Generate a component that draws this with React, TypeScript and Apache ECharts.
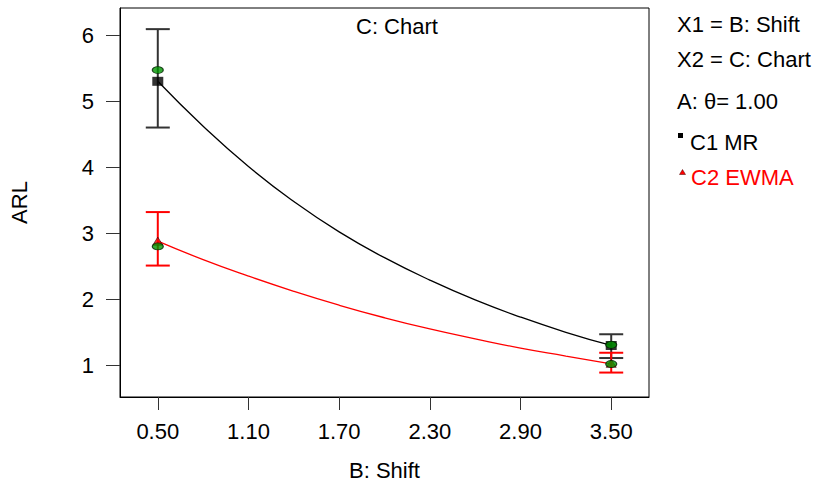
import React, { useEffect, useRef } from "react";
import * as echarts from "echarts";

// Shift values (x) where the fitted curves were read
const curveX = [0.5, 0.8, 1.1, 1.4, 1.7, 2.0, 2.3, 2.6, 2.9, 3.2, 3.5];
// Fitted ARL curve, C1 MR (black)
const c1Curve = [5.3, 4.62, 4.01, 3.48, 3.02, 2.63, 2.29, 1.99, 1.73, 1.5, 1.3];
// Fitted ARL curve, C2 EWMA (red)
const c2Curve = [2.88, 2.6, 2.35, 2.12, 1.91, 1.72, 1.55, 1.4, 1.26, 1.14, 1.02];

// Design points
const designX = [0.5, 3.5];
const c1Pred = [5.3, 1.3];
const c1Low = [4.6, 1.11];
const c1High = [6.09, 1.47];
const c2Pred = [2.88, 1.03];
const c2Low = [2.51, 0.89];
const c2High = [3.32, 1.19];
// Actual (green) observations
const actualC1 = [5.47, 1.31];
const actualC2 = [2.8, 1.02];

const xTicks = [0.5, 1.1, 1.7, 2.3, 2.9, 3.5];
const yTicks = [1, 2, 3, 4, 5, 6];

const FONT = "Liberation Sans, Arial, sans-serif";
const ELLIPSE = "path://M0 1 A1 1 0 1 1 2 1 A1 1 0 1 1 0 1 Z";

function errorBars(color: string, lo: number[], hi: number[]) {
  return {
    type: "custom",
    z: 3,
    data: designX.map((x, i) => [x, lo[i], hi[i]]),
    encode: { x: 0, y: [1, 2] },
    renderItem: (_p: any, api: any) => {
      const x = api.value(0);
      const a = api.coord([x, api.value(1)]);
      const b = api.coord([x, api.value(2)]);
      const hw = 12;
      const st = { stroke: color, lineWidth: 2 };
      return {
        type: "group",
        children: [
          { type: "line", shape: { x1: a[0], y1: a[1], x2: b[0], y2: b[1] }, style: st },
          { type: "line", shape: { x1: a[0] - hw, y1: a[1], x2: a[0] + hw, y2: a[1] }, style: st },
          { type: "line", shape: { x1: b[0] - hw, y1: b[1], x2: b[0] + hw, y2: b[1] }, style: st },
        ],
      };
    },
  };
}

export default function App() {
  const ref = useRef<HTMLDivElement>(null);
  useEffect(() => {
    const chart = echarts.init(ref.current!, null, { renderer: "svg" });
    const legendText = { fontFamily: FONT, fontSize: 22, fill: "#000" };
    chart.setOption({
      animation: false,
      backgroundColor: "#fff",
      textStyle: { fontFamily: FONT },
      grid: {
        left: 120,
        right: 175,
        top: 8,
        bottom: 88,
        show: true,
        borderColor: "#000",
        borderWidth: 1,
      },
      xAxis: {
        type: "value",
        min: 0.25,
        max: 3.75,
        name: "B: Shift",
        nameLocation: "middle",
        nameGap: 62,
        nameTextStyle: { fontSize: 22, color: "#000", fontFamily: FONT },
        axisLine: { lineStyle: { color: "#000" } },
        axisTick: { show: true, length: 13, customValues: xTicks, lineStyle: { color: "#333" } },
        axisLabel: {
          customValues: xTicks,
          formatter: (v: number) => v.toFixed(2),
          fontSize: 22,
          color: "#000",
          margin: 23,
          fontFamily: FONT,
        },
        splitLine: { show: false },
      },
      yAxis: {
        type: "value",
        min: 0.52,
        max: 6.41,
        name: "ARL",
        nameLocation: "middle",
        nameRotate: 90,
        nameGap: 90,
        nameTextStyle: { fontSize: 22, color: "#000", fontFamily: FONT },
        axisLine: { show: true, lineStyle: { color: "#000" } },
        axisTick: { show: true, length: 14, customValues: yTicks, lineStyle: { color: "#333" } },
        axisLabel: {
          customValues: yTicks,
          fontSize: 22,
          color: "#000",
          margin: 26,
          fontFamily: FONT,
        },
        splitLine: { show: false },
      },
      graphic: [
        { type: "text", left: 356, top: 15, style: { text: "C: Chart", fontFamily: FONT, fontSize: 22, fill: "#000" } },
        { type: "text", left: 677, top: 13, style: { text: "X1 = B: Shift", ...legendText } },
        { type: "text", left: 677, top: 48, style: { text: "X2 = C: Chart", ...legendText } },
        { type: "text", left: 677, top: 90, style: { text: "A: \u03b8= 1.00", ...legendText } },
        { type: "rect", shape: { x: 678, y: 133, width: 5, height: 5 }, style: { fill: "#000" } },
        { type: "text", left: 690, top: 131, style: { text: "C1 MR", ...legendText } },
        { type: "polygon", shape: { points: [[682.5, 169.5], [679.5, 174.5], [685.5, 174.5]] }, style: { fill: "#f00", stroke: "#400", lineWidth: 0.5 } },
        { type: "text", left: 691, top: 166, style: { text: "C2 EWMA", ...legendText, fill: "#ff0000" } },
      ],
      series: [
        {
          type: "line",
          smooth: true,
          showSymbol: false,
          z: 2,
          data: curveX.map((x, i) => [x, c1Curve[i]]),
          lineStyle: { color: "#000", width: 1.3 },
        },
        {
          type: "line",
          smooth: true,
          showSymbol: false,
          z: 2,
          data: curveX.map((x, i) => [x, c2Curve[i]]),
          lineStyle: { color: "#ff0000", width: 1.3 },
        },
        errorBars("#333", c1Low, c1High),
        errorBars("#ff0000", c2Low, c2High),
        {
          type: "scatter",
          z: 4,
          symbol: "rect",
          symbolSize: [11, 9],
          data: designX.map((x, i) => [x, c1Pred[i]]),
          itemStyle: { color: "#000" },
        },
        {
          type: "scatter",
          z: 4,
          symbol: "triangle",
          symbolSize: [10, 8],
          data: designX.map((x, i) => [x, c2Pred[i]]),
          itemStyle: { color: "#ff0000", borderColor: "#300", borderWidth: 0.8 },
        },
        {
          type: "scatter",
          z: 5,
          symbol: ELLIPSE,
          symbolSize: [11, 7],
          data: [
            ...designX.map((x, i) => [x, actualC1[i]]),
            ...designX.map((x, i) => [x, actualC2[i]]),
          ],
          itemStyle: { color: "#009600", borderColor: "#002000", borderWidth: 1 },
        },
      ],
    });
    return () => chart.dispose();
  }, []);
  return <div ref={ref} style={{ width: 824, height: 486, position: "absolute", left: 0, top: 0 }} />;
}
